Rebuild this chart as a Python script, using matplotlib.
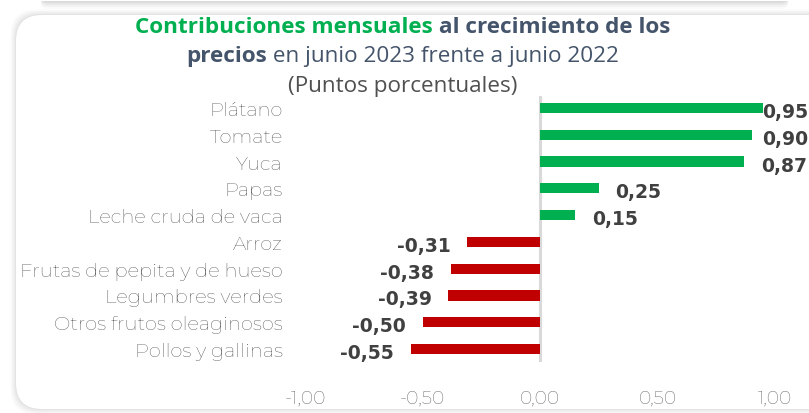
import matplotlib
matplotlib.use('Agg')
import matplotlib.pyplot as plt
from matplotlib.patches import FancyBboxPatch
import matplotlib.transforms as mtrans

categories = ['Plátano', 'Tomate', 'Yuca', 'Papas', 'Leche cruda de vaca', 'Arroz',
              'Frutas de pepita y de hueso', 'Legumbres verdes', 'Otros frutos oleaginosos',
              'Pollos y gallinas']
values = [0.95, 0.90, 0.87, 0.25, 0.15, -0.31, -0.38, -0.39, -0.50, -0.55]
value_labels = ['0,95', '0,90', '0,87', '0,25', '0,15', '-0,31', '-0,38', '-0,39', '-0,50', '-0,55']
xticks = [-1.0, -0.5, 0.0, 0.5, 1.0]
xtick_labels = ['-1,00', '-0,50', '0,00', '0,50', '1,00']

GREEN = '#00B050'
RED = '#C00000'
DARK = '#44546A'
GRAY = '#505050'
LBL = '#3a3a3a'
VAL = '#404040'

W, H = 809, 414
DPI = 100
fig = plt.figure(figsize=(W / DPI, H / DPI), dpi=DPI)
fig.patch.set_facecolor('white')

def fx(px):
    return px / W

def fy(py):
    return 1 - py / H

ident = mtrans.IdentityTransform()
LFAM = ['Montserrat', 'Open Sans', 'DejaVu Sans']
VFAM = ['DejaVu Sans']

# previous card bottom shadow at top
for i, a in enumerate([0.05, 0.04, 0.03, 0.02]):
    fig.patches.append(FancyBboxPatch((40, H - 4 - i * 2), W - 60, 10,
                                      boxstyle='round,pad=0,rounding_size=8',
                                      transform=ident, facecolor='#000000', alpha=a,
                                      edgecolor='none', zorder=0))
fig.patches.append(FancyBboxPatch((30, H - 2), W - 40, 10, boxstyle='round,pad=0,rounding_size=8',
                                  transform=ident, facecolor='white', edgecolor='none', zorder=0.5))

# card shadow + card
for i, a in enumerate([0.035, 0.03, 0.025, 0.02]):
    d = 1 + i * 1.5
    fig.patches.append(FancyBboxPatch((16 - d, 4 - d), W + 40, (H - 16) - 4 + 2 * d,
                                      boxstyle='round,pad=0,rounding_size=26',
                                      transform=ident, facecolor='#000000', alpha=a,
                                      edgecolor='none', zorder=1))
fig.patches.append(FancyBboxPatch((16, 4), W + 40, (H - 16) - 4,
                                  boxstyle='round,pad=0,rounding_size=26',
                                  transform=ident, facecolor='white', edgecolor='none', zorder=2))

# axes
top_px, bot_px = 95.6, 363.4
ax = fig.add_axes([fx(305), fy(bot_px), fx(775) - fx(305), (bot_px - top_px) / H])
ax.set_facecolor('none')
ax.set_zorder(5)
n = len(categories)
ypos = list(range(n))
colors = [GREEN if v >= 0 else RED for v in values]
ax.barh(ypos, values, height=0.38, color=colors, zorder=3)
ax.set_xlim(-1, 1)
ax.set_ylim(n - 0.5, -0.5)
for s in ax.spines.values():
    s.set_visible(False)
ax.axvline(0, ymin=0.01, ymax=0.99, color='#d9d9d9', lw=2.2, zorder=2)

ax.set_yticks(ypos)
ax.set_yticklabels(categories, fontsize=14, color=LBL, family=LFAM)
ax.set_xticks(xticks)
ax.set_xticklabels(xtick_labels, fontsize=13.5, color=LBL, family=LFAM)
ax.tick_params(axis='y', length=0, pad=16)
ax.tick_params(axis='x', length=0, pad=19)

fig.canvas.draw()
renderer = fig.canvas.get_renderer()

# value labels
VFS = 13.5
for y, v, lab in zip(ypos, values, value_labels):
    if v >= 0:
        t = ax.annotate(lab, (v, y), xytext=(12, -2.5), textcoords='offset points',
                        ha='left', va='center', fontsize=VFS, fontweight='bold', color=VAL,
                        family=VFAM, annotation_clip=False, zorder=6)
        bb = t.get_window_extent(renderer)
        if bb.x1 > W - 1:
            t.remove()
            xdisp, ydisp = ax.transData.transform((v, y))
            ax.text(W - 1, ydisp - 2.5 * DPI / 72, lab, transform=ident, ha='right', va='center',
                    fontsize=VFS, fontweight='bold', color=VAL, family=VFAM, zorder=6)
    else:
        ax.annotate(lab, (v, y), xytext=(-12, -2.5), textcoords='offset points',
                    ha='right', va='center', fontsize=VFS, fontweight='bold', color=VAL,
                    family=VFAM, annotation_clip=False, zorder=6)

# title with mixed styles
title_lines = [
    ([('Contribuciones mensuales', GREEN, 'bold'), (' al crecimiento de los', DARK, 'bold')], 33),
    ([('precios', DARK, 'bold'), (' en junio 2023 frente a junio 2022', DARK, 'normal')], 62),
    ([('(Puntos porcentuales)', GRAY, 'normal')], 92),
]
center_x = 403
tfam = ['Open Sans', 'DejaVu Sans']
TFS = 16.2
for pieces, base in title_lines:
    widths = []
    for txt, col, wt in pieces:
        tt = fig.text(0, 0, txt, fontsize=TFS, fontweight=wt, family=tfam)
        widths.append(tt.get_window_extent(renderer).width)
        tt.remove()
    total = sum(widths)
    x = center_x - total / 2
    for (txt, col, wt), w in zip(pieces, widths):
        fig.text(fx(x), fy(base), txt, fontsize=TFS, fontweight=wt, color=col, family=tfam,
                 ha='left', va='baseline', zorder=6)
        x += w

fig.savefig('out.png', dpi=DPI, facecolor='white')
